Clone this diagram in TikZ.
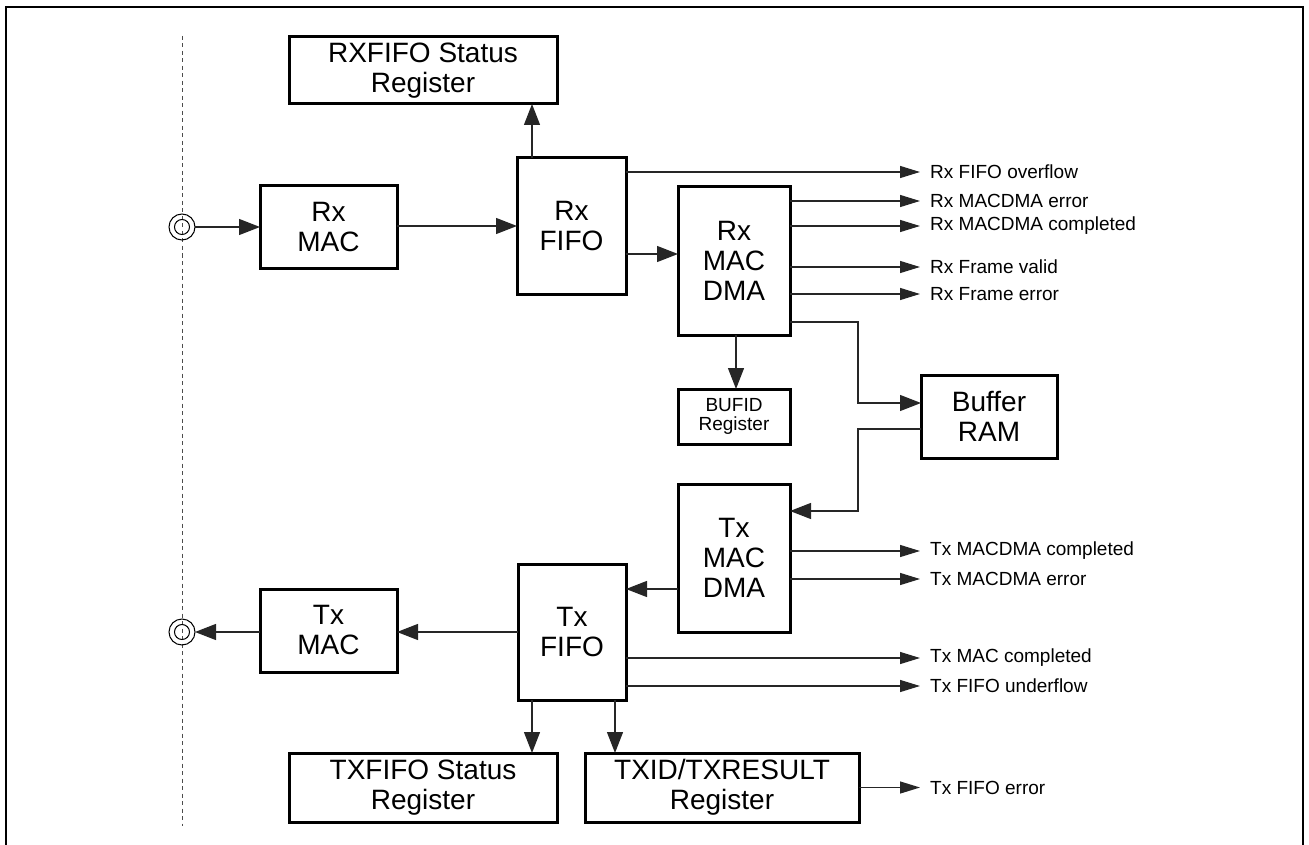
\documentclass[tikz,border=0pt]{standalone}
\usepackage{fontspec}
\setmainfont{Liberation Sans}
\usetikzlibrary{arrows.meta,calc}
\begin{document}
\begin{tikzpicture}[x=1pt,y=-1pt,
  blk/.style={draw=black, line width=3pt, inner sep=0pt, outer sep=0pt, align=center,
    font=\fontsize{28}{30}\selectfont},
  sblk/.style={blk, font=\fontsize{19}{19.5}\selectfont},
  conn/.style={line width=1.3pt, draw=black!85},
  big/.style={conn, -{Triangle[length=21pt,width=16pt]}},
  small/.style={conn, -{Triangle[length=20pt,width=12pt]}},
  lbl/.style={inner ysep=0pt, inner xsep=10pt, anchor=west, font=\fontsize{19}{22}\selectfont},
  port/.style={circle, draw=black, line width=1pt, minimum size=26pt, inner sep=0pt, outer sep=0pt}
]
\useasboundingbox (0,0) rectangle (1309,845);
% frame
\draw[line width=2pt] (6,845) -- (6,7.5) -- (1303,7.5) -- (1303,845);
% dashed boundary
\draw[line width=1pt, black!70, dash pattern=on 4pt off 3.5pt] (182,36) -- (182,826);
% ports
\node[port] (cin) at (182,227) {};
\draw[line width=1pt] (cin.center) circle[radius=7.5pt];
\node[port] (cout) at (182,632) {};
\draw[line width=1pt] (cout.center) circle[radius=7.5pt];
% blocks
\node[blk, minimum width=268pt, minimum height=67pt] (rxstat) at (423,70.5) {RXFIFO Status\\Register};
\node[blk, minimum width=137pt, minimum height=83pt] (rxmac) at (328.5,227) {Rx\\MAC};
\node[blk, minimum width=109pt, minimum height=136pt] (rxfifo) at (571.5,226) {Rx\\FIFO};
\node[blk, minimum width=112pt, minimum height=148pt] (rxdma) at (734,261) {Rx\\MAC\\DMA};
\node[sblk, minimum width=112pt, minimum height=55pt] (bufid) at (734,416.5) {BUFID\\Register};
\node[blk, minimum width=136pt, minimum height=83pt] (bufram) at (989,416.5) {Buffer\\RAM};
\node[blk, minimum width=112pt, minimum height=148pt] (txdma) at (734,558) {Tx\\MAC\\DMA};
\node[blk, minimum width=108pt, minimum height=136pt] (txfifo) at (572,632) {Tx\\FIFO};
\node[blk, minimum width=137pt, minimum height=83pt] (txmac) at (328.5,630.5) {Tx\\MAC};
\node[blk, minimum width=268pt, minimum height=69pt] (txstat) at (423,787.5) {TXFIFO Status\\Register};
\node[blk, minimum width=274pt, minimum height=69pt] (txid) at (722,787.5) {TXID/TXRESULT\\Register};
% labels
\node[lbl] (l1) at (920,172) {Rx FIFO overflow};
\node[lbl] (l2) at (920,201) {Rx MACDMA error};
\node[lbl] (l3) at (920,226) {Rx MACDMA completed};
\node[lbl] (l4) at (920,267) {Rx Frame valid};
\node[lbl] (l5) at (920,294) {Rx Frame error};
\node[lbl] (l6) at (920,551) {Tx MACDMA completed};
\node[lbl] (l7) at (920,579) {Tx MACDMA error};
\node[lbl] (l8) at (920,658) {Tx MAC completed};
\node[lbl] (l9) at (920,686) {Tx FIFO underflow};
\node[lbl] (l10) at (920,787.5) {Tx FIFO error};
% receive path
\draw[big] (cin) -- (cin -| rxmac.west);
\draw[big] (rxmac.east |- 0,226) -- (rxfifo.west |- 0,226);
\draw[big] (532,0 |- rxfifo.north) -- (532,0 |- rxstat.south);
\draw[big] (rxfifo.east |- 0,254) -- (rxdma.west |- 0,254);
\draw[small] (rxfifo.east |- l1) -- (l1.west);
\draw[small] (rxdma.east |- l2) -- (l2.west);
\draw[small] (rxdma.east |- l3) -- (l3.west);
\draw[small] (rxdma.east |- l4) -- (l4.west);
\draw[small] (rxdma.east |- l5) -- (l5.west);
\draw[big] (736,0 |- rxdma.south) -- (736,0 |- bufid.north);
\draw[big] (rxdma.east |- 0,322) -- (858,322) |- (bufram.west |- 0,403);
% transmit path
\draw[big] (bufram.west |- 0,429) -- (858,429) |- (txdma.east |- 0,511);
\draw[small] (txdma.east |- l6) -- (l6.west);
\draw[small] (txdma.east |- l7) -- (l7.west);
\draw[big] (txdma.west |- 0,589) -- (txfifo.east |- 0,589);
\draw[big] (txfifo.west |- 0,632) -- (txmac.east |- 0,632);
\draw[big] (txmac.west |- cout) -- (cout);
\draw[small] (txfifo.east |- l8) -- (l8.west);
\draw[small] (txfifo.east |- l9) -- (l9.west);
\draw[big] (532,0 |- txfifo.south) -- (532,0 |- txstat.north);
\draw[big] (615,0 |- txfifo.south) -- (615,0 |- txid.north);
\draw[small] (txid.east |- l10) -- (l10.west);
\end{tikzpicture}
\end{document}
